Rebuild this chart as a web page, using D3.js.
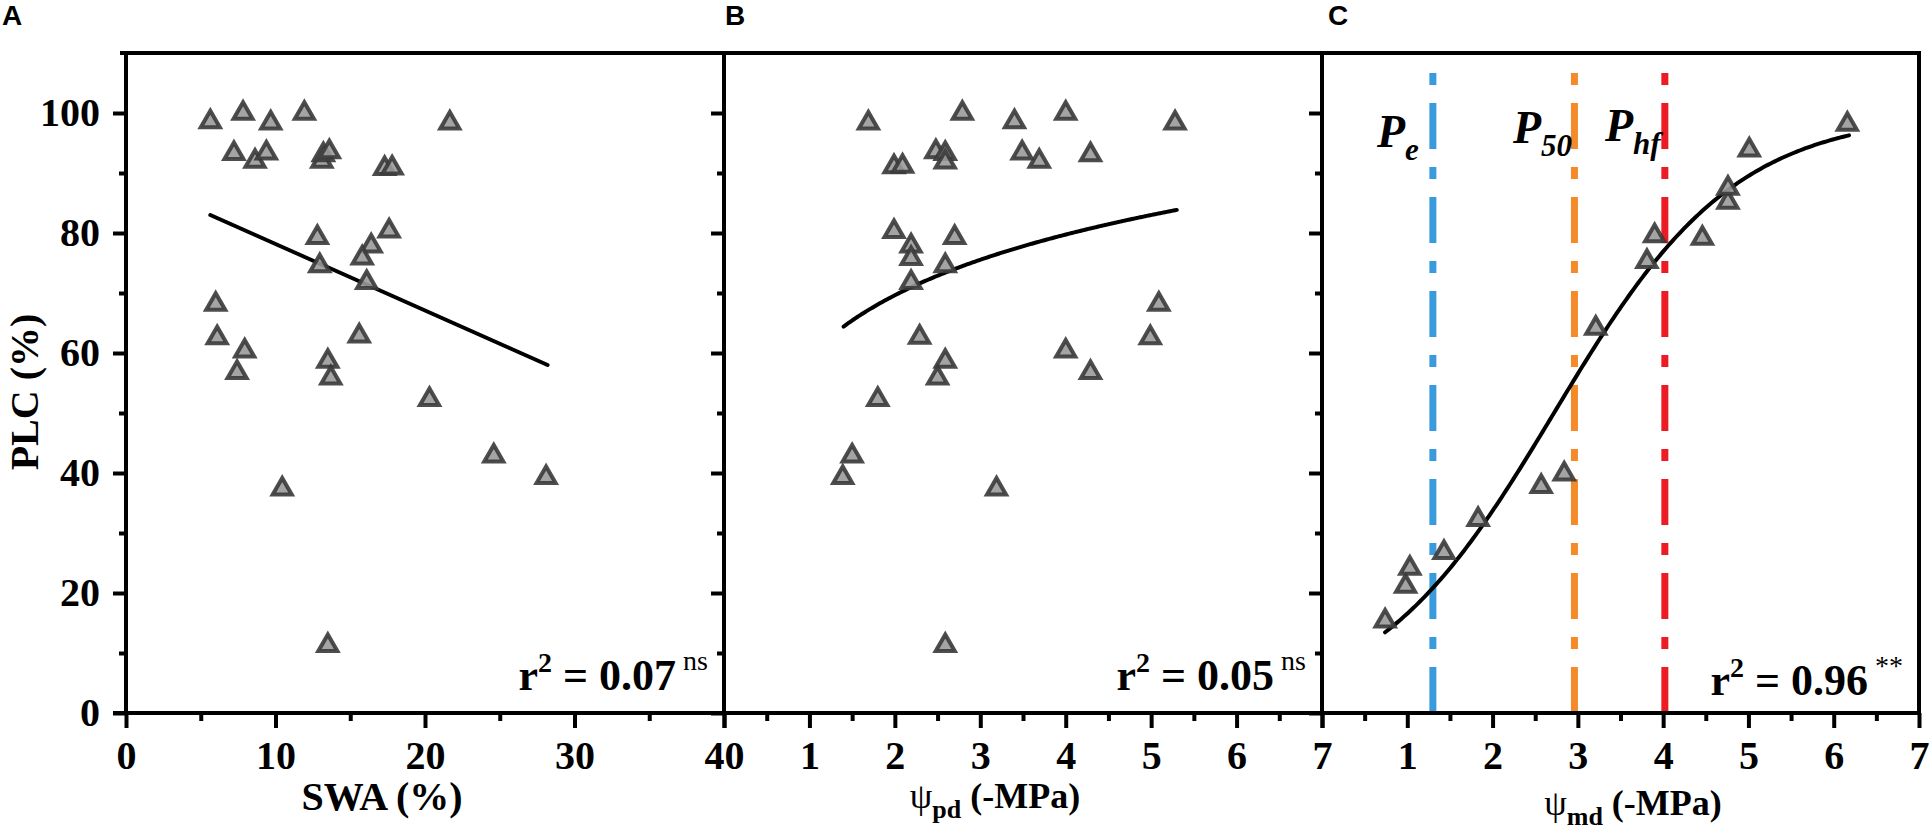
<!DOCTYPE html>
<html>
<head>
<meta charset="utf-8">
<script src="https://cdn.jsdelivr.net/npm/d3@7"></script>
<style>
  html, body { margin: 0; padding: 0; background: #fff; }
  svg { display: block; }
  text { font-family: "Liberation Serif", "Times New Roman", serif; font-weight: bold; fill: #000; }
</style>
</head>
<body>
<svg id="chart" width="1932" height="828"></svg>
<script>
// ---------- DATA ----------
// Panel A: SWA (%) vs PLC (%)
const swaX = [5.64, 7.83, 9.68, 11.93, 21.66, 7.22, 8.63, 9.39, 13.1, 13.2, 13.6, 17.3, 17.8,
              12.8, 17.6, 16.4, 15.8, 12.96, 16.1, 6.0, 6.1, 7.94, 7.43, 15.6, 13.5, 13.7, 20.3,
              10.45, 24.6, 28.1, 13.5];
const plcA = [99.0, 100.4, 98.8, 100.4, 98.8, 93.7, 92.4, 93.8, 92.4, 93.5, 94.0, 91.2, 91.3,
              79.7, 80.8, 78.3, 76.3, 75.0, 72.2, 68.6, 63.0, 60.8, 57.2, 63.3, 59.1, 56.3, 52.7,
              37.8, 43.3, 39.7, 11.7];
// Panel B: psi_pd (-MPa) vs PLC (%)
const psiPdX = [1.69, 2.79, 3.40, 4.0, 5.28, 1.99, 2.09, 2.48, 2.59, 2.59, 3.49, 3.69, 4.29,
                1.99, 2.19, 2.19, 2.70, 2.59, 2.19, 5.09, 2.29, 4.99, 4.0, 2.59, 4.29, 2.50, 1.80,
                1.50, 1.39, 3.19, 2.59];
const plcB = [98.8, 100.4, 99.0, 100.4, 98.8, 91.5, 91.6, 94.0, 93.7, 92.3, 93.8, 92.4, 93.5,
              80.7, 78.3, 76.2, 79.7, 75.0, 72.2, 68.6, 63.1, 63.0, 60.8, 59.1, 57.2, 56.3, 52.7,
              43.3, 39.7, 37.8, 11.7];
// Panel C: psi_md (-MPa) vs PLC (%)
const psiMdX = [0.74, 0.98, 1.03, 1.43, 1.83, 2.57, 2.84, 3.21, 3.81, 3.90, 4.46, 4.76, 4.76, 5.01, 6.16];
const plcC   = [15.8, 21.6, 24.6, 27.2, 32.7, 38.2, 40.3, 64.6, 75.7, 80.0, 79.6, 85.6, 87.9, 94.3, 98.6];

// Fitted models (parameters)
const fitA = { slope: -1.108, intercept: 89.25, from: 5.64, to: 28.2 };     // linear
const fitB = { a: 59.5, b: 14.6, from: 1.40, to: 5.30 };                     // a + b ln(x)
const fitC = { a: 0.94, p50: 2.72, from: 0.74, to: 6.18 };                   // logistic

// Thresholds in panel C
const thresholds = [
  { name: "P", sub: "e",  value: 1.30, color: "#3a9bdc" },
  { name: "P", sub: "50", value: 2.96, color: "#f58a2b" },
  { name: "P", sub: "hf", value: 4.02, color: "#ec1c24" }
];

const rLabels = [
  { r: "0.07", sig: "ns" },
  { r: "0.05", sig: "ns" },
  { r: "0.96", sig: "**" }
];

const yMajor = [0, 20, 40, 60, 80, 100];
const yMinor = [10, 30, 50, 70, 90];
const xMajorA = [0, 10, 20, 30, 40];
const xMinorA = [5, 15, 25, 35];
const xMajorBC = [0, 1, 2, 3, 4, 5, 6, 7];
const xMinorBC = [0.5, 1.5, 2.5, 3.5, 4.5, 5.5, 6.5];
const xLabelsBC = [1, 2, 3, 4, 5, 6, 7];

// ---------- LAYOUT ----------
const svg = d3.select("#chart");
const yTop = 53, yBottom = 713;
const panelX = [126, 724, 1322, 1919];
const y = d3.scaleLinear().domain([0, 110]).range([yBottom, yTop]);

const panels = [
  { letter: "A", x: d3.scaleLinear().domain([0, 40]).range([panelX[0], panelX[1]]),
    xs: swaX, ys: plcA, major: xMajorA, minor: xMinorA, labels: xMajorA },
  { letter: "B", x: d3.scaleLinear().domain([0, 7]).range([panelX[1], panelX[2]]),
    xs: psiPdX, ys: plcB, major: xMajorBC, minor: xMinorBC, labels: xLabelsBC },
  { letter: "C", x: d3.scaleLinear().domain([0, 7]).range([panelX[2], panelX[3]]),
    xs: psiMdX, ys: plcC, major: xMajorBC, minor: xMinorBC, labels: xLabelsBC }
];

const AXW = 4;

// threshold lines (under the data)
const pc = panels[2];
thresholds.forEach(t => {
  svg.append("line")
    .attr("x1", pc.x(t.value)).attr("x2", pc.x(t.value))
    .attr("y1", y(0)).attr("y2", y(110))
    .attr("stroke", t.color).attr("stroke-width", 7)
    .attr("stroke-dasharray", "46 18 12 18");
});

// fit curves
function curve(p, f, fn) {
  const pts = d3.range(0, 201).map(i => {
    const xv = f.from + (f.to - f.from) * i / 200;
    return [p.x(xv), y(fn(xv))];
  });
  svg.append("path").attr("d", d3.line()(pts))
    .attr("fill", "none").attr("stroke", "#000").attr("stroke-width", 4)
    .attr("stroke-linecap", "round");
}
curve(panels[0], fitA, v => fitA.intercept + fitA.slope * v);
curve(panels[1], fitB, v => fitB.a + fitB.b * Math.log(v));
curve(panels[2], fitC, v => 100 / (1 + Math.exp(-fitC.a * (v - fitC.p50))));

// markers
const side = 19, h = side * Math.sqrt(3) / 2;
const tri = `M0,${-h/2}L${side/2},${h/2}L${-side/2},${h/2}Z`;
panels.forEach(p => {
  svg.append("g").selectAll("path").data(p.xs.map((v, i) => [v, p.ys[i]]))
    .join("path")
    .attr("d", tri)
    .attr("transform", d => `translate(${p.x(d[0])},${y(d[1])})`)
    .attr("fill", "#9a9a9a").attr("fill-opacity", 0.9)
    .attr("stroke", "#3a3a3a").attr("stroke-opacity", 0.9)
    .attr("stroke-width", 4).attr("stroke-linejoin", "miter");
});

// axes
panels.forEach((p, i) => {
  const gx = svg.append("g").attr("transform", `translate(0,${yBottom})`)
    .call(d3.axisBottom(p.x).tickValues(p.major).tickSize(15).tickSizeOuter(0).tickPadding(13)
      .tickFormat(d => p.labels.includes(d) ? d3.format("d")(d) : ""));
  gx.select(".domain").remove();
  gx.selectAll("line").attr("stroke", "#000").attr("stroke-width", AXW);
  gx.selectAll("text").attr("font-size", 40).attr("font-family", "Liberation Serif").attr("font-weight", "bold");
  const gxm = svg.append("g").attr("transform", `translate(0,${yBottom})`)
    .call(d3.axisBottom(p.x).tickValues(p.minor).tickSize(8).tickFormat(""));
  gxm.select(".domain").remove();
  gxm.selectAll("line").attr("stroke", "#000").attr("stroke-width", AXW);

  const gy = svg.append("g").attr("transform", `translate(${panelX[i]},0)`)
    .call(d3.axisLeft(y).tickValues(yMajor).tickSize(13).tickPadding(13)
      .tickFormat(i === 0 ? d3.format("d") : ""));
  gy.select(".domain").remove();
  gy.selectAll("line").attr("stroke", "#000").attr("stroke-width", AXW);
  gy.selectAll("text").attr("font-size", 40).attr("font-family", "Liberation Serif").attr("font-weight", "bold");
  const gym = svg.append("g").attr("transform", `translate(${panelX[i]},0)`)
    .call(d3.axisLeft(y).tickValues(yMinor).tickSize(7).tickFormat(""));
  gym.select(".domain").remove();
  gym.selectAll("line").attr("stroke", "#000").attr("stroke-width", AXW);

  svg.append("text").text(p.letter)
    .attr("x", i === 0 ? 2 : panelX[i] + (i === 1 ? 1 : 6)).attr("y", 25)
    .attr("font-size", 28)
    .style("font-family", "'Liberation Sans', Arial, sans-serif");

  const t = svg.append("text").attr("text-anchor", "end")
    .attr("x", panelX[i + 1] - 16).attr("y", 690 + (i === 2 ? 5 : 0)).attr("font-size", 44);
  t.append("tspan").text("r");
  t.append("tspan").text("2").attr("font-size", 28).attr("dy", -18);
  t.append("tspan").text(" = " + rLabels[i].r).attr("dy", 18);
  t.append("tspan").text(" " + rLabels[i].sig).attr("font-size", 28).attr("font-weight", "normal").attr("dy", -20);
});

// frame lines
svg.append("line").attr("x1", 120).attr("x2", panelX[3] + 2).attr("y1", yTop).attr("y2", yTop)
  .attr("stroke", "#000").attr("stroke-width", AXW);
panelX.forEach(px => {
  svg.append("line").attr("x1", px).attr("x2", px).attr("y1", yTop - 2).attr("y2", yBottom + 2)
    .attr("stroke", "#000").attr("stroke-width", AXW);
});
svg.append("line").attr("x1", panelX[0] - 13).attr("x2", panelX[3] + 2).attr("y1", yBottom).attr("y2", yBottom)
  .attr("stroke", "#000").attr("stroke-width", AXW);

// threshold labels
const pLab = [
  { x: 1377, yb: 147 },
  { x: 1513, yb: 143 },
  { x: 1605, yb: 141 }
];
thresholds.forEach((t, i) => {
  const tx = svg.append("text").attr("x", pLab[i].x).attr("y", pLab[i].yb)
    .attr("font-size", 46).attr("font-style", "italic");
  tx.append("tspan").text(t.name);
  tx.append("tspan").text(t.sub).attr("font-size", 31).attr("dy", 13);
});

// axis titles
svg.append("text").attr("transform", `translate(38,392) rotate(-90)`).attr("text-anchor", "middle")
  .attr("font-size", 40).text("PLC (%)");
svg.append("text").attr("x", 382).attr("y", 810).attr("text-anchor", "middle")
  .attr("font-size", 40).text("SWA (%)");
const tb = svg.append("text").attr("x", 995).attr("y", 808).attr("text-anchor", "middle").attr("font-size", 36);
tb.append("tspan").text("ψ").attr("font-weight", "normal");
tb.append("tspan").text("pd").attr("font-size", 26).attr("dy", 10);
tb.append("tspan").text(" (-MPa)").attr("dy", -10);
const tc = svg.append("text").attr("x", 1633).attr("y", 815).attr("text-anchor", "middle").attr("font-size", 36);
tc.append("tspan").text("ψ").attr("font-weight", "normal");
tc.append("tspan").text("md").attr("font-size", 26).attr("dy", 10);
tc.append("tspan").text(" (-MPa)").attr("dy", -10);
</script>
</body>
</html>
